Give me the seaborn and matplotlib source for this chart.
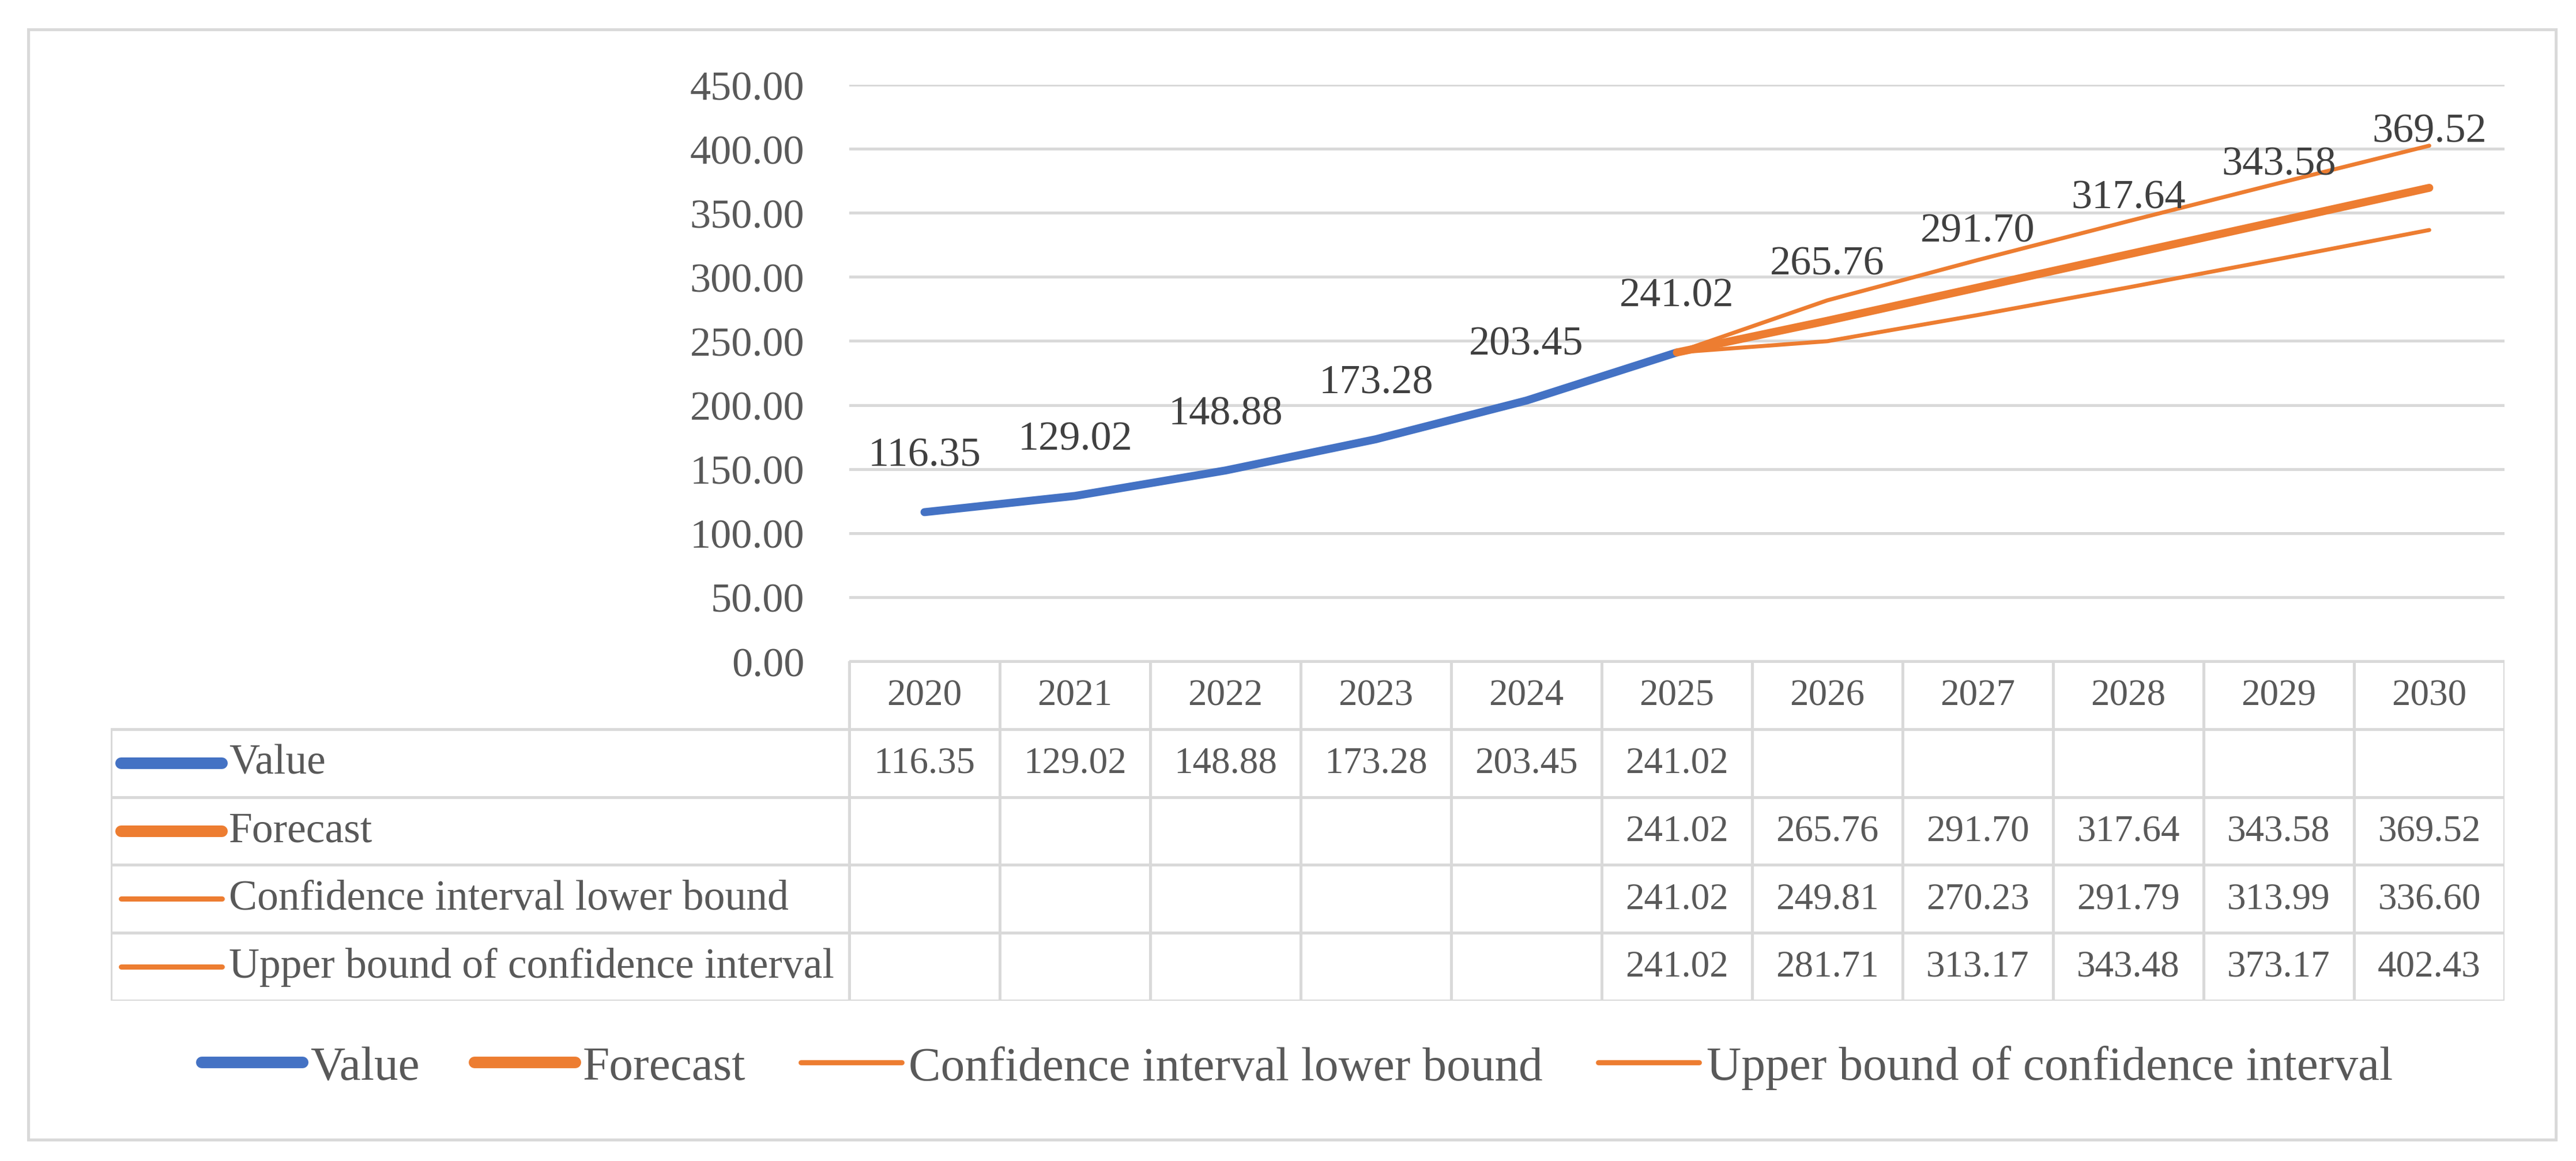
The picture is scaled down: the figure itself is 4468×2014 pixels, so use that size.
import numpy as np
import pandas as pd
import matplotlib
matplotlib.use("Agg")
import matplotlib.pyplot as plt
import seaborn as sns
from matplotlib.lines import Line2D
from matplotlib.patches import Rectangle

# ---------------- data ----------------
years = ["2020", "2021", "2022", "2023", "2024", "2025",
         "2026", "2027", "2028", "2029", "2030"]
value = [116.35, 129.02, 148.88, 173.28, 203.45, 241.02,
         np.nan, np.nan, np.nan, np.nan, np.nan]
forecast = [np.nan, np.nan, np.nan, np.nan, np.nan,
            241.02, 265.76, 291.70, 317.64, 343.58, 369.52]
lower = [np.nan, np.nan, np.nan, np.nan, np.nan,
         241.02, 249.81, 270.23, 291.79, 313.99, 336.60]
upper = [np.nan, np.nan, np.nan, np.nan, np.nan,
         241.02, 281.71, 313.17, 343.48, 373.17, 402.43]
series_names = ["Value", "Forecast", "Confidence interval lower bound",
                "Upper bound of confidence interval"]
yticks = [0, 50, 100, 150, 200, 250, 300, 350, 400, 450]

# ---------------- style ----------------
sns.set_theme(style="white")
plt.rcParams["font.family"] = ["Liberation Serif", "DejaVu Serif"]

BLUE = "#4472C4"
ORANGE = "#ED7D31"
GRID = "#D9D9D9"
TXT = "#595959"
LBL = "#404040"

W, H = 4468, 2015
DPI = 200
fig = plt.figure(figsize=(W / DPI, H / DPI), dpi=DPI)
fig.patch.set_facecolor("white")

def fx(px):
    return px / W

def fy(py):
    return 1 - py / H

# outer frame
fig.patches.append(Rectangle((fx(49), fy(1978)), fx(4433) - fx(49), fy(52) - fy(1978),
                             transform=fig.transFigure, fill=False,
                             edgecolor=GRID, linewidth=1.8, zorder=0))

# main axes
AX_L, AX_R, AX_T, AX_B = 1473, 4344, 148, 1148
ax = fig.add_axes([fx(AX_L), fy(AX_B), fx(AX_R) - fx(AX_L), fy(AX_T) - fy(AX_B)])
ax.set_xlim(-0.5, 10.5)
ax.set_ylim(0, 450)
for s in ax.spines.values():
    s.set_visible(False)
ax.set_yticks(yticks)
ax.set_yticklabels([f"{t:.2f}" for t in yticks])
ax.tick_params(axis="y", length=0, pad=28, labelsize=26, labelcolor=TXT)
ax.set_xticks([])
ax.grid(axis="y", color=GRID, linewidth=1.8)
ax.set_axisbelow(True)
ax.patch.set_alpha(0)

xpos = np.arange(len(years))
df = pd.DataFrame({"x": xpos, "Value": value, "Forecast": forecast,
                   "Lower": lower, "Upper": upper})

styles = [("Value", BLUE, 5.0), ("Lower", ORANGE, 2.5),
          ("Upper", ORANGE, 2.5), ("Forecast", ORANGE, 5.0)]
for col, c, lw in styles:
    d = df[["x", col]].dropna()
    sns.lineplot(data=d, x="x", y=col, ax=ax, color=c, linewidth=lw,
                 solid_capstyle="round", solid_joinstyle="round", clip_on=False)
ax.set_xlabel("")
ax.set_ylabel("")

# data labels
for i, v in enumerate(value):
    if not np.isnan(v) and i < 5:
        ax.annotate(f"{v:.2f}", (i, v), xytext=(0, 29), textcoords="offset points",
                    ha="center", va="baseline", fontsize=26, color=LBL)
for i, v in enumerate(forecast):
    if not np.isnan(v):
        ax.annotate(f"{v:.2f}", (i, v), xytext=(0, 29), textcoords="offset points",
                    ha="center", va="baseline", fontsize=26, color=LBL)

# ---------------- data table ----------------
COLW = (AX_R - AX_L) / 11.0
T_L, T_T, T_B = 192, 1148, 1737
tx0 = -0.5 + (T_L - AX_L) / COLW
axt = fig.add_axes([fx(T_L), fy(T_B), fx(AX_R) - fx(T_L), fy(T_T) - fy(T_B)])
axt.set_xlim(tx0, 10.5)
axt.set_ylim(5, 0)
axt.axis("off")

lw_t = 1.8
axt.plot([-0.5, 10.5], [0, 0], color=GRID, lw=lw_t, solid_capstyle="projecting")
for r in range(1, 6):
    axt.plot([tx0, 10.5], [r, r], color=GRID, lw=lw_t, solid_capstyle="projecting")
axt.plot([tx0, tx0], [1, 5], color=GRID, lw=lw_t, solid_capstyle="projecting")
for k in range(12):
    xk = -0.5 + k
    axt.plot([xk, xk], [0, 5], color=GRID, lw=lw_t, solid_capstyle="projecting")

TFS = 23.4
LFS = 26.5
for i, y in enumerate(years):
    axt.text(i, 0.5, y, ha="center", va="center", fontsize=TFS, color=TXT)

rows = [value, forecast, lower, upper]
row_colors = [BLUE, ORANGE, ORANGE, ORANGE]
row_lw = [7.2, 7.2, 3.2, 3.2]
key_x0 = -0.5 + (210 - AX_L) / COLW
key_x1 = -0.5 + (385 - AX_L) / COLW
lab_x = -0.5 + (397 - AX_L) / COLW
for r, (vals, name) in enumerate(zip(rows, series_names)):
    yc = r + 1.5
    axt.plot([key_x0, key_x1], [yc, yc], color=row_colors[r], lw=row_lw[r],
             solid_capstyle="round")
    axt.text(lab_x, yc, name, ha="left", va="center", fontsize=LFS, color=TXT)
    for i, v in enumerate(vals):
        if not np.isnan(v):
            axt.text(i, yc, f"{v:.2f}", ha="center", va="center",
                     fontsize=TFS, color=TXT)

# ---------------- legend ----------------
handles = [Line2D([], [], color=c, lw=lw, solid_capstyle="round")
           for c, lw in zip(row_colors, row_lw)]
leg = fig.legend(handles, series_names, loc="center", ncol=4,
                 bbox_to_anchor=(fx(2250), fy(1853)), frameon=False,
                 fontsize=30, labelcolor=TXT, handlelength=2.1,
                 handletextpad=0.15, columnspacing=1.15)

fig.savefig("out.png", dpi=DPI, facecolor="white")
